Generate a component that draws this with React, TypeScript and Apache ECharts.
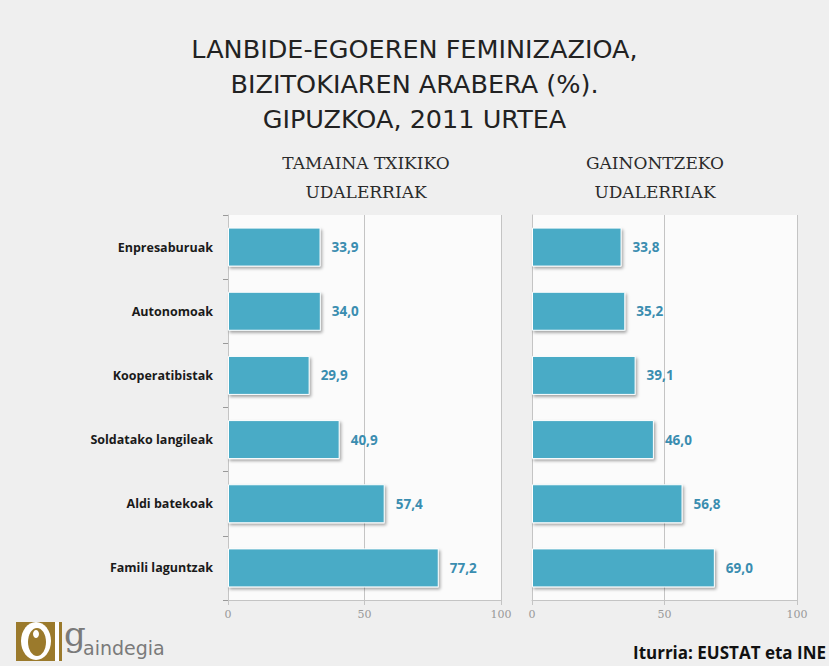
import React, { useEffect, useRef } from "react";
import * as echarts from "echarts";

const categories = [
  "Enpresaburuak",
  "Autonomoak",
  "Kooperatibistak",
  "Soldatako langileak",
  "Aldi batekoak",
  "Famili laguntzak",
];
const smallTowns = [33.9, 34.0, 29.9, 40.9, 57.4, 77.2];
const otherTowns = [33.8, 35.2, 39.1, 46.0, 56.8, 69.0];
const xMin = 0;
const xMax = 100;
const xInterval = 50;
const titleLines = [
  "LANBIDE-EGOEREN FEMINIZAZIOA,",
  "BIZITOKIAREN ARABERA (%).",
  "GIPUZKOA, 2011 URTEA",
];
const leftSubtitle = ["TAMAINA TXIKIKO", "UDALERRIAK"];
const rightSubtitle = ["GAINONTZEKO", "UDALERRIAK"];
const sourceText = "Iturria: EUSTAT eta INE";

const BAR = "#4aabc6";
const LABEL = "#3a8db0";
const GRIDC = "#c4c4c4";

function fmt(v: number) {
  return v.toFixed(1).replace(".", ",");
}

export default function App() {
  const ref = useRef<HTMLDivElement>(null);
  useEffect(() => {
    if (!ref.current) return;
    const chart = echarts.init(ref.current, null, { renderer: "svg" });
    const xAxisCommon = (showTickLabel: boolean) => ({
      type: "value",
      min: xMin,
      max: xMax,
      interval: xInterval,
      axisLine: { show: true, lineStyle: { color: GRIDC, width: 1 } },
      axisTick: { show: true, length: 5, lineStyle: { color: GRIDC } },
      splitLine: { show: true, lineStyle: { color: GRIDC, width: 1 } },
      axisLabel: {
        show: showTickLabel,
        color: "#999",
        fontFamily: "DejaVu Serif",
        fontSize: 11,
        margin: 9,
      },
    });
    const barSeries = (data: number[], idx: number) => ({
      type: "bar",
      xAxisIndex: idx,
      yAxisIndex: idx,
      data,
      barWidth: 39,
      itemStyle: {
        color: BAR,
        borderColor: "#ffffff",
        borderWidth: 1,
        shadowBlur: 3,
        shadowColor: "rgba(0,0,0,0.35)",
        shadowOffsetX: 1.5,
        shadowOffsetY: 2,
      },
      label: {
        show: true,
        position: "right",
        distance: 11,
        color: LABEL,
        fontFamily: "Open Sans",
        fontWeight: "bold",
        fontSize: 13.5,
        formatter: (p: any) => fmt(p.value),
      },
    });
    const graphics: any[] = [];
    titleLines.forEach((t, i) => {
      graphics.push({
        type: "text",
        left: "center",
        top: 36 + i * 35,
        style: {
          text: t,
          font: "400 25.5px 'DejaVu Sans'",
          fill: "#222",
        },
      });
    });
    leftSubtitle.forEach((t, i) => {
      graphics.push({
        type: "text",
        x: 366,
        y: 154 + i * 29,
        style: {
          text: t,
          font: "17px 'DejaVu Serif'",
          fill: "#2a2a2a",
          textAlign: "center",
        },
      });
    });
    rightSubtitle.forEach((t, i) => {
      graphics.push({
        type: "text",
        x: 655,
        y: 154 + i * 29,
        style: {
          text: t,
          font: "17px 'DejaVu Serif'",
          fill: "#2a2a2a",
          textAlign: "center",
        },
      });
    });
    graphics.push({
      type: "text",
      x: 826,
      y: 644,
      style: {
        text: sourceText,
        font: "bold 17px 'Open Sans'",
        fill: "#111",
        textAlign: "right",
      },
    });
    // logo
    graphics.push(
      { type: "rect", shape: { x: 16, y: 622, width: 46, height: 39 }, style: { fill: "#9b7a2c" } },
      { type: "ellipse", shape: { cx: 36, cy: 641, rx: 15, ry: 19 }, style: { fill: "#ffffff" } },
      { type: "ellipse", shape: { cx: 37, cy: 642, rx: 9, ry: 14 }, style: { fill: "#9b7a2c" } },
      { type: "ellipse", shape: { cx: 36, cy: 634, rx: 3, ry: 4 }, style: { fill: "#ffffff" } },
      { type: "rect", shape: { x: 55, y: 622, width: 4, height: 39 }, style: { fill: "#ffffff" } },
      {
        type: "text",
        x: 64,
        y: 617,
        style: { text: "g", font: "34px 'DejaVu Serif'", fill: "#7a7a7a" },
      },
      {
        type: "text",
        x: 83,
        y: 638,
        style: { text: "aindegia", font: "19px 'DejaVu Sans'", fill: "#7a7a7a" },
      }
    );

    chart.setOption({
      animation: false,
      backgroundColor: "#efefef",
      grid: [
        { left: 228, right: 328, top: 215, bottom: 66, show: true, backgroundColor: "#fbfbfb", borderWidth: 0 },
        { left: 532, right: 32, top: 215, bottom: 66, show: true, backgroundColor: "#fbfbfb", borderWidth: 0 },
      ],
      xAxis: [
        { ...xAxisCommon(true), gridIndex: 0 },
        { ...xAxisCommon(true), gridIndex: 1 },
      ],
      yAxis: [
        {
          type: "category",
          gridIndex: 0,
          data: categories,
          inverse: true,
          axisLine: { show: true, lineStyle: { color: GRIDC } },
          axisTick: { show: true, length: 5, lineStyle: { color: "#999" } },
          axisLabel: {
            color: "#1a1a1a",
            fontFamily: "Open Sans",
            fontWeight: "bold",
            fontSize: 12.5,
            margin: 15,
          },
        },
        {
          type: "category",
          gridIndex: 1,
          data: categories,
          inverse: true,
          axisLine: { show: true, lineStyle: { color: GRIDC } },
          axisTick: { show: false },
          axisLabel: { show: false },
        },
      ],
      series: [barSeries(smallTowns, 0), barSeries(otherTowns, 1)],
      graphic: graphics,
    });
    return () => chart.dispose();
  }, []);
  return (
    <div
      ref={ref}
      style={{ position: "fixed", left: 0, top: 0, width: 829, height: 666 }}
    />
  );
}
